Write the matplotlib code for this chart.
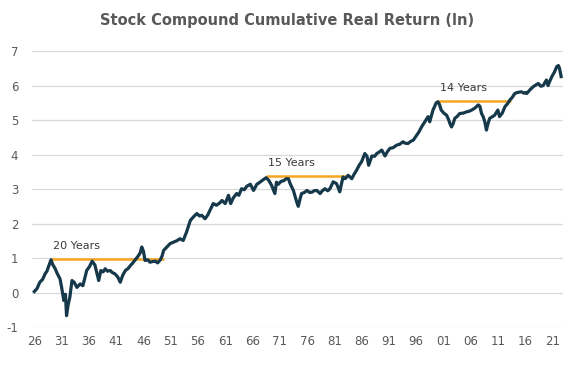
import matplotlib
matplotlib.use("Agg")
import matplotlib.pyplot as plt

plt.rcParams['axes.unicode_minus'] = False

# cumulative real return (ln)
years = [1926.0, 1926.5, 1927.0, 1927.5, 1928.0, 1928.3, 1928.6, 1929.05, 1929.4, 1929.8, 1930.2, 1930.7, 1931.0, 1931.4,
         1931.7, 1931.9, 1932.2, 1932.5, 1932.9, 1933.3, 1933.8, 1934.4, 1934.9, 1935.6,
         1936.1, 1936.6, 1937.1, 1937.5, 1937.8, 1938.2, 1938.6, 1939.0, 1939.4, 1939.9,
         1940.3, 1940.8, 1941.3, 1941.75, 1942.2, 1942.7, 1943.2, 1943.6, 1944.0, 1944.5,
         1945.0, 1945.4, 1945.7, 1946.0, 1946.3, 1946.8, 1947.2, 1947.7, 1948.2, 1948.6,
         1949.1, 1949.4, 1949.7, 1950.3, 1950.9, 1951.5, 1952.1, 1952.7, 1953.3, 1953.9,
         1954.6, 1955.2, 1955.8, 1956.3, 1956.7, 1957.3, 1957.8, 1958.2, 1958.8, 1959.4,
         1960.0, 1960.4, 1961.0, 1961.6, 1962.0, 1962.5, 1963.1, 1963.5, 1964.0, 1964.5, 1964.95, 1965.6,
         1966.2, 1966.8, 1967.2, 1967.7, 1968.5, 1969.0, 1969.5, 1970.1, 1970.4, 1970.75,
         1971.2, 1971.7, 1972.2, 1972.6, 1972.9, 1973.5, 1974.1, 1974.4, 1974.7, 1975.0,
         1975.5, 1976.0, 1976.5, 1976.9, 1977.3, 1977.8, 1978.4, 1978.8, 1979.3, 1979.8,
         1980.2, 1980.8, 1981.4, 1981.7, 1982.0, 1982.6, 1983.0, 1983.55, 1984.2, 1984.6,
         1985.1, 1985.6, 1986.0, 1986.6, 1987.0, 1987.3, 1987.9, 1988.4, 1988.8, 1989.3,
         1989.7, 1990.3, 1990.8, 1991.2, 1991.8, 1992.4, 1993.0, 1993.6, 1994.0, 1994.5,
         1995.0, 1995.5, 1996.1, 1996.5, 1997.0, 1997.6, 1998.2, 1998.5, 1999.1, 1999.7,
         2000.0, 2000.3, 2000.6, 2001.1, 2001.6, 2002.0, 2002.2, 2002.5, 2002.8, 2003.1,
         2003.5, 2004.0, 2004.6, 2005.3, 2005.8, 2006.2, 2006.8, 2007.4, 2007.7, 2008.0,
         2008.3, 2008.6, 2008.9, 2009.2, 2009.5, 2010.0, 2010.4, 2011.0, 2011.3, 2011.8,
         2012.3, 2012.8, 2013.2, 2013.6, 2014.1, 2014.6, 2015.3, 2015.8, 2016.1, 2016.3,
         2016.9, 2017.5, 2018.0, 2018.4, 2018.9, 2019.3, 2019.9, 2020.2, 2020.5, 2020.9,
         2021.4, 2021.8, 2022.1, 2022.3, 2022.6]
returns = [0.03, 0.12, 0.3, 0.38, 0.55, 0.62, 0.75, 0.95, 0.8, 0.7, 0.55, 0.4, 0.15, -0.23,
           -0.05, -0.67, -0.35, -0.14, 0.35, 0.3, 0.15, 0.25, 0.2, 0.64,
           0.75, 0.91, 0.8, 0.54, 0.35, 0.64, 0.6, 0.69, 0.62, 0.64,
           0.58, 0.54, 0.45, 0.3, 0.5, 0.64, 0.7, 0.78, 0.85, 0.95,
           1.05, 1.15, 1.32, 1.2, 0.93, 0.95, 0.88, 0.9, 0.91, 0.86,
           0.95, 1.05, 1.22, 1.32, 1.42, 1.46, 1.5, 1.56, 1.51, 1.75,
           2.09, 2.2, 2.29, 2.22, 2.24, 2.14, 2.25, 2.38, 2.58, 2.53,
           2.6, 2.67, 2.58, 2.82, 2.58, 2.75, 2.87, 2.82, 3.01, 2.98, 3.08, 3.14,
           2.96, 3.14, 3.18, 3.24, 3.33, 3.25, 3.11, 2.87, 3.2, 3.14,
           3.22, 3.24, 3.3, 3.3, 3.16, 2.96, 2.63, 2.5, 2.7, 2.87,
           2.9, 2.96, 2.9, 2.91, 2.95, 2.96, 2.87, 2.95, 3.01, 2.95,
           3.01, 3.21, 3.16, 3.05, 2.92, 3.35, 3.3, 3.4, 3.3, 3.42,
           3.55, 3.7, 3.79, 4.03, 3.95, 3.69, 3.96, 3.95, 4.03, 4.08,
           4.13, 3.96, 4.1, 4.18, 4.2, 4.27, 4.3, 4.37, 4.33, 4.32,
           4.38, 4.42, 4.56, 4.65, 4.8, 4.95, 5.1, 4.95, 5.29, 5.5,
           5.53, 5.45, 5.29, 5.2, 5.14, 5.0, 4.9, 4.8, 4.9, 5.05,
           5.1, 5.19, 5.2, 5.24, 5.26, 5.29, 5.35, 5.44, 5.4, 5.19,
           5.1, 4.95, 4.71, 4.9, 5.05, 5.1, 5.14, 5.29, 5.1, 5.2,
           5.39, 5.48, 5.58, 5.65, 5.77, 5.8, 5.82, 5.78, 5.8, 5.77,
           5.88, 5.97, 6.02, 6.06, 5.98, 6.0, 6.16, 6.0, 6.12, 6.26,
           6.4, 6.55, 6.58, 6.5, 6.26]

# flat "break-even" periods: start, end, level, label
periods_start = [1929.05, 1968.5, 2000.0]
periods_end = [1949.7, 1983.55, 2013.4]
periods_level = [0.98, 3.38, 5.55]
periods_label = ['20 Years', '15 Years', '14 Years']

tick_years = list(range(1926, 2022, 5))
tick_labels = [str(y)[-2:] for y in tick_years]

fig = plt.figure(figsize=(5.85, 3.7), dpi=100)
ax = fig.add_axes([0.055, 0.116, 0.907, 0.746])

ax.plot(years, returns, color='#15384a', linewidth=2.3, zorder=3, solid_joinstyle='round')

for x0, x1, lvl, lab in zip(periods_start, periods_end, periods_level, periods_label):
    ax.hlines(lvl, x0, x1, color='#f5a623', linewidth=1.8, zorder=2)
    ax.text(x0 + 0.3, lvl + 0.22, lab, fontsize=8, color='#3a3a3a', ha='left', va='bottom')

ax.set_xlim(1925.6, 2022.9)
ax.set_ylim(-1, 7)
ax.set_yticks(range(-1, 8))
ax.set_xticks(tick_years)
ax.set_xticklabels(tick_labels)
ax.grid(axis='y', color='#d9d9d9', linewidth=0.9)
ax.set_axisbelow(True)
for s in ax.spines.values():
    s.set_visible(False)
ax.tick_params(length=0, labelsize=8.5, colors='#595959', pad=6)
ax.tick_params(axis='y', pad=10)

fig.suptitle('Stock Compound Cumulative Real Return (ln)', fontsize=10.5, fontweight='bold',
             color='#595959', x=0.49, y=0.965)

fig.savefig('out.png', dpi=100)
